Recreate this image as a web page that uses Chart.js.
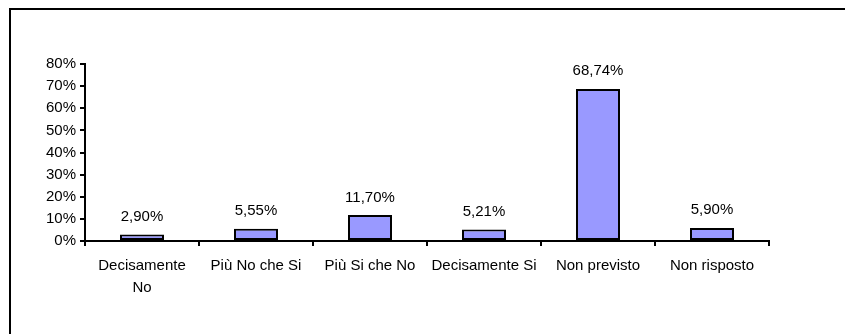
<!DOCTYPE html>
<html>
<head>
<meta charset="utf-8">
<script src="https://cdn.jsdelivr.net/npm/chart.js@4/dist/chart.umd.min.js"></script>
<style>
  html, body { margin: 0; padding: 0; background: #fff; }
  #wrap { position: relative; width: 845px; height: 334px; overflow: hidden; }
  #frame {
    position: absolute; left: 9px; top: 8px; right: -10px; bottom: -10px;
    border-top: 2px solid #000; border-left: 2px solid #000;
  }
  #chart { position: absolute; left: 0; top: 0; }
</style>
</head>
<body>
<div id="wrap">
  <div id="frame"></div>
  <canvas id="chart" width="845" height="334"></canvas>
</div>
<script>
// categorie di risposta
var categories = [
  ['Decisamente', 'No'],
  'Più No che Si',
  'Più Si che No',
  'Decisamente Si',
  'Non previsto',
  'Non risposto'
];
// percentuali per categoria
var percentuali = [2.90, 5.55, 11.70, 5.21, 68.74, 5.90];
var yMax = 80;
var yStep = 10;

var FONT = { family: "'Liberation Sans', Arial, sans-serif", size: 15 };

function formatPct(v) {
  return v.toFixed(2).replace('.', ',') + '%';
}

// scrive il valore sopra ogni barra
var valueLabels = {
  id: 'valueLabels',
  afterDatasetsDraw: function (chart) {
    var ctx = chart.ctx;
    var meta = chart.getDatasetMeta(0);
    ctx.save();
    ctx.font = FONT.size + 'px ' + FONT.family;
    ctx.fillStyle = '#000';
    ctx.textAlign = 'center';
    ctx.textBaseline = 'alphabetic';
    meta.data.forEach(function (bar, i) {
      ctx.fillText(formatPct(percentuali[i]), bar.x, bar.y - 13.5);
    });
    ctx.restore();
  }
};

new Chart(document.getElementById('chart'), {
  type: 'bar',
  data: {
    labels: categories,
    datasets: [{
      data: percentuali,
      backgroundColor: '#9999ff',
      borderColor: '#000',
      borderWidth: 2,
      borderSkipped: false,
      barPercentage: 0.386,
      categoryPercentage: 1
    }]
  },
  options: {
    responsive: false,
    animation: false,
    devicePixelRatio: 1,
    layout: { padding: { left: 0, right: 76, top: 64, bottom: 0 } },
    plugins: {
      legend: { display: false },
      tooltip: { enabled: false }
    },
    scales: {
      x: {
        afterFit: function (scale) { scale.height = 93; },
        grid: {
          offset: true,
          drawOnChartArea: false,
          tickLength: 5,
          color: '#000',
          lineWidth: 2
        },
        border: { display: true, color: '#000', width: 2 },
        ticks: {
          color: '#000',
          font: Object.assign({ lineHeight: 1.47 }, FONT),
          padding: 9,
          maxRotation: 0,
          autoSkip: false
        }
      },
      y: {
        min: 0,
        max: yMax,
        afterFit: function (scale) { scale.width = 85; },
        grid: {
          drawOnChartArea: false,
          tickLength: 5,
          color: '#000',
          lineWidth: 2
        },
        border: { display: true, color: '#000', width: 2 },
        ticks: {
          stepSize: yStep,
          color: '#000',
          font: FONT,
          padding: 4,
          callback: function (v) { return v + '%'; }
        }
      }
    }
  },
  plugins: [valueLabels]
});
</script>
</body>
</html>
